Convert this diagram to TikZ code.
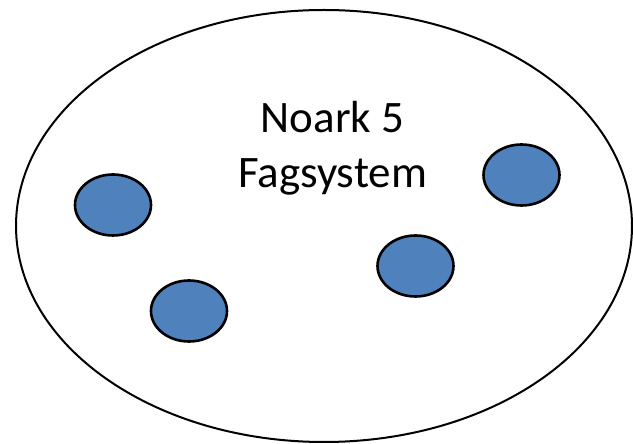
\documentclass[tikz,border=0pt]{standalone}
\usepackage{fontspec}
\setmainfont{Carlito}
\usetikzlibrary{shapes.geometric}
\definecolor{dotfill}{rgb}{0.31,0.506,0.741}

\begin{document}
\begin{tikzpicture}[line join=bevel,
  system/.style={draw=black, ellipse, line width=2bp, inner sep=0pt,
    minimum width=616bp, minimum height=432bp},
  part/.style={draw=black, fill=dotfill, ellipse, line width=2.6bp, inner sep=0pt,
    minimum width=76bp, minimum height=61bp},
  label/.style={align=center, inner sep=0pt, font=\fontsize{45bp}{55bp}\selectfont}]
  \useasboundingbox (0bp,0bp) rectangle (633bp,444bp);
  % Node: system
  \node [system] (sys) at (324bp,218bp) {};
  % Node: label
  \node [label] (name) at (332.5bp,296bp) {Noark 5\\Fagsystem};
  % Nodes: parts
  \node [part] (p1) at (113bp,239bp) {};
  \node [part] (p2) at (189bp,133bp) {};
  \node [part] (p3) at (415.5bp,178bp) {};
  \node [part] (p4) at (521.5bp,269bp) {};
%
\end{tikzpicture}
\end{document}
